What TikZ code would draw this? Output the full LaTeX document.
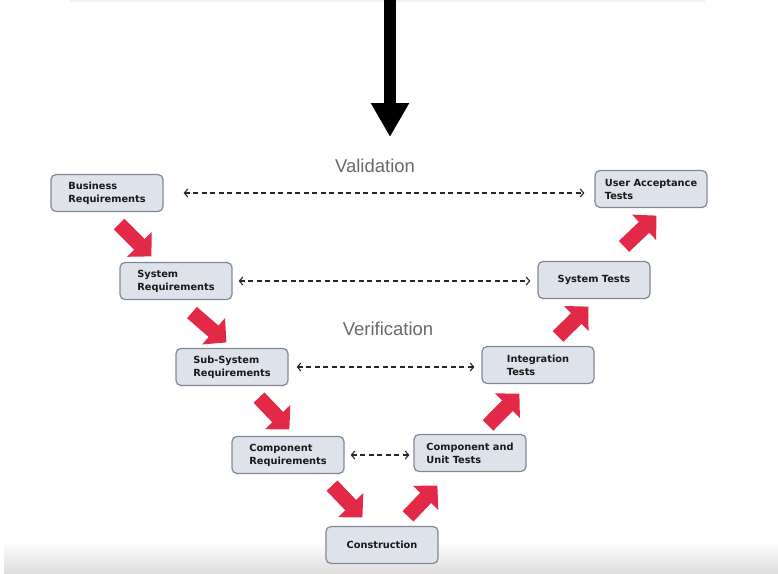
\documentclass[tikz,border=0pt]{standalone}
\usepackage{fontspec}
\setmainfont{Liberation Sans}
\newfontfamily\boxfont{DejaVu Sans}
\usetikzlibrary{arrows.meta,calc}
\definecolor{boxfill}{RGB}{221,226,235}
\definecolor{boxline}{RGB}{130,136,147}
\definecolor{vred}{RGB}{226,42,72}
\definecolor{labgray}{RGB}{105,105,105}

\begin{document}
\begin{tikzpicture}[x=1pt,y=-1pt,
		stage/.style={draw=boxline, line width=1.2pt, fill=boxfill, rounded corners=5pt,
			minimum width=112pt, minimum height=37pt, align=left, inner sep=2pt,
			font=\boxfont\bfseries\fontsize{9.8}{13}\selectfont, text=black!90},
		redarrow/.style={vred, line width=15pt, -{Triangle[width=34pt,length=17pt]}},
		dasharrow/.style={black!85, line width=1.1pt, dash pattern=on 5pt off 3.5pt,
			{Straight Barb[length=3.5pt,width=8pt]}-{Straight Barb[length=3.5pt,width=8pt]}},
		vlabel/.style={text=labgray, font=\fontsize{18.5}{20}\selectfont}]
		%%%%% START %%%%%
		
		\useasboundingbox (0,0) rectangle (778,573);
		\shade[top color=white, bottom color=black!13] (4,541) rectangle (778,573);
		\fill[black!6] (70,0) rectangle (705,2);
		
		% big arrow on top
		\coordinate (ptop) at (390,-2);
		\coordinate (pbot) at (390,137);
		\draw[line width=11.5pt, -{Triangle[width=36pt,length=34pt]}] (ptop) -- (pbot);
		
		\node[vlabel] (val) at (375,166) {Validation};
		\node[vlabel] (ver) at (388,329) {Verification};
		
		% left leg
		\node[stage] (bus) at (107,193) {Business\\Requirements};
		\node[stage] (sys) at (176,281) {System\\Requirements};
		\node[stage] (sub) at (232,367) {Sub-System\\Requirements};
		\node[stage] (comp) at (288,455) {Component\\Requirements};
		\node[stage] (cons) at (382,545) {Construction};
		
		% right leg
		\node[stage] (cut) at (470,453) {Component and\\Unit Tests};
		\node[stage] (integ) at (538,365) {Integration\\Tests};
		\node[stage] (st) at (594,280) {System Tests};
		\node[stage] (uat) at (651,189) {User Acceptance\\Tests};
		
		\draw[redarrow] ($(bus.south)+(12,12)$) -- ($(sys.north west)+(32,-5.5)$);
		\draw[redarrow] ($(sys.south)+(16,12.5)$) -- ($(sub.north west)+(51,-5.5)$);
		\draw[redarrow] ($(sub.south)+(27,11.5)$) -- ($(comp.north west)+(58,-6.5)$);
		\draw[redarrow] ($(comp.south)+(44,11.5)$) -- ($(cons.north west)+(37,-8.5)$);
		\draw[redarrow] ($(cons.north)+(26,-9.5)$) -- ($(cut.south west)+(24,13.5)$);
		\draw[redarrow] ($(cut.north)+(18,-8.5)$) -- ($(integ.south west)+(38,9.5)$);
		\draw[redarrow] ($(integ.north)+(20,-9.5)$) -- ($(st.south west)+(51,7.5)$);
		\draw[redarrow] ($(st.north)+(30,-14.5)$) -- ($(uat.south west)+(62,7.5)$);
		
		\draw[dasharrow] ([xshift=20pt]bus.east) -- ([xshift=-10pt]bus.east -| uat.west);
		\draw[dasharrow] ([xshift=6pt]sys.east) -- ([xshift=-7pt]sys.east -| st.west);
		\draw[dasharrow] ([xshift=8pt]sub.east) -- ([xshift=-7pt]sub.east -| integ.west);
		\draw[dasharrow] ([xshift=6pt]comp.east) -- ([xshift=-4pt]comp.east -| cut.west);
		
		%%%%% END %%%%%
	\end{tikzpicture}
\end{document}
